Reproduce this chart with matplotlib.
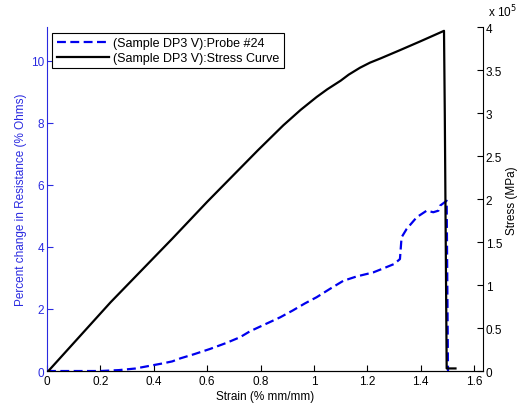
import matplotlib
matplotlib.use("Agg")
import matplotlib.pyplot as plt

plt.rcParams['font.family'] = ['Liberation Sans', 'DejaVu Sans']

# Probe #24: percent change in resistance vs strain
probe_strain = [0.0, 0.1, 0.2, 0.27, 0.33, 0.386, 0.43, 0.469, 0.5, 0.55, 0.61, 0.67,
                0.723, 0.76, 0.80, 0.873, 0.92, 0.966, 1.01, 1.06, 1.11, 1.16, 1.222,
                1.26, 1.30, 1.322, 1.328, 1.347, 1.385, 1.422, 1.447, 1.466, 1.472,
                1.497, 1.502]
probe_pct = [0.0, 0.0, 0.0, 0.03, 0.08, 0.17, 0.24, 0.31, 0.41, 0.54, 0.71, 0.90,
             1.09, 1.28, 1.44, 1.73, 1.95, 2.18, 2.38, 2.65, 2.91, 3.05, 3.18,
             3.31, 3.45, 3.61, 4.31, 4.58, 4.96, 5.17, 5.12, 5.17, 5.33,
             5.49, 0.0]

# Stress curve (stress in units of 1e5 MPa)
stress_strain = [0.005, 0.238, 0.469, 0.6, 0.79, 0.885, 0.95, 1.01, 1.05, 1.10, 1.13,
                 1.172, 1.21, 1.25, 1.322, 1.40, 1.487, 1.490, 1.497, 1.53]
stress_e5 = [0.0, 0.80, 1.54, 1.97, 2.57, 2.86, 3.04, 3.19, 3.28, 3.38, 3.45,
             3.53, 3.59, 3.64, 3.735, 3.84, 3.96, 2.98, 0.03, 0.03]

x_ticks = [0, 0.2, 0.4, 0.6, 0.8, 1.0, 1.2, 1.4, 1.6]
x_tick_labels = ['0', '0.2', '0.4', '0.6', '0.8', '1', '1.2', '1.4', '1.6']
left_ticks = [0, 2, 4, 6, 8, 10]
right_ticks = [0, 0.5, 1, 1.5, 2, 2.5, 3, 3.5, 4]
right_tick_labels = ['0', '0.5', '1', '1.5', '2', '2.5', '3', '3.5', '4']

blue = '#2a2ae0'
fs = 8.5

fig = plt.figure(figsize=(5.19, 4.14), dpi=100)
ax = fig.add_axes([0.0906, 0.1014, 0.84, 0.8300])
ax2 = ax.twinx()

l1, = ax.plot(probe_strain, probe_pct, color='#0000ee', lw=1.6, dashes=(4, 2),
              label='(Sample DP3 V):Probe #24', zorder=3)
l2, = ax2.plot(stress_strain, stress_e5, color='black', lw=1.6,
               label='(Sample DP3 V):Stress Curve', zorder=2)

ax.set_xlim(0, 1.633)
ax.set_ylim(0, 11.08)
ax2.set_ylim(0, 4.0)

ax.set_xticks(x_ticks)
ax.set_xticklabels(x_tick_labels)
ax.set_yticks(left_ticks)
ax2.set_yticks(right_ticks)
ax2.set_yticklabels(right_tick_labels)

for a in (ax, ax2):
    a.spines['top'].set_visible(False)
ax.spines['right'].set_visible(False)
ax.spines['left'].set_color(blue)
ax2.spines['left'].set_visible(False)
ax2.spines['right'].set_color('black')

ax.tick_params(axis='x', direction='in', length=4, labelsize=fs, colors='black', pad=3)
ax.tick_params(axis='y', direction='in', length=4, labelsize=fs, colors=blue, pad=2)
ax2.tick_params(axis='y', direction='in', length=4, labelsize=fs, colors='black', pad=2)

ax.set_xlabel('Strain (% mm/mm)', fontsize=fs, labelpad=2)
ax.set_ylabel('Percent change in Resistance (% Ohms)', fontsize=fs, color=blue, labelpad=3)
ax2.set_ylabel('Stress (MPa)', fontsize=fs, labelpad=3)

fig.text(0.995, 0.952, r'x 10$^5$', fontsize=fs, ha='right', va='bottom')

leg = ax.legend(handles=[l1, l2], loc='upper left', bbox_to_anchor=(0.012, 0.985),
                fontsize=9, handlelength=4.2, handletextpad=0.3, borderpad=0.35,
                labelspacing=0.25, fancybox=False, framealpha=1, edgecolor='black',
                borderaxespad=0)
leg.get_frame().set_linewidth(0.8)
leg.set_zorder(10)

fig.savefig('out.png', dpi=100)
